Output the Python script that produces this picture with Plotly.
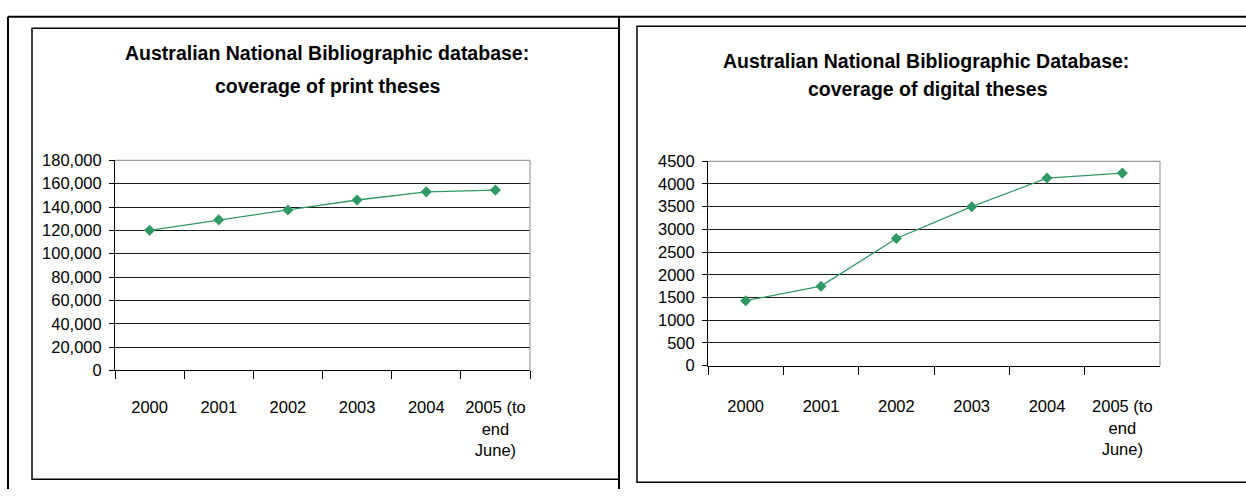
import plotly.graph_objects as go

W, H = 1246, 498

categories = ["2000", "2001", "2002", "2003", "2004", "2005 (to<br>end<br>June)"]
print_theses = [120000, 129000, 137500, 146000, 153000, 154500]
digital_theses = [1430, 1750, 2800, 3500, 4130, 4240]

title_left = ["Australian National Bibliographic database:", "coverage of print theses"]
title_right = ["Australian National Bibliographic Database:", "coverage of digital theses"]

FONT = "Liberation Sans, Arial, sans-serif"
GREEN = "#2f9964"

def px(x):
    return x / W

def py(y):
    return 1 - y / H

fig = go.Figure()

for xa, ya, vals in (("x", "y", print_theses), ("x2", "y2", digital_theses)):
    fig.add_trace(go.Scatter(
        x=categories, y=vals, mode="lines+markers", xaxis=xa, yaxis=ya,
        line=dict(color=GREEN, width=1.3),
        marker=dict(symbol="diamond", size=8.5, color=GREEN),
        showlegend=False, cliponaxis=False))

tickfont = dict(family=FONT, size=16.5, color="black")

xcommon = dict(type="category", range=[-0.5, 5.5], tickson="boundaries",
               ticks="outside", ticklen=8, tickcolor="black", tickwidth=1,
               showline=True, linecolor="black", linewidth=1, tickangle=0,
               showgrid=False, tickfont=tickfont, fixedrange=True)
ycommon = dict(ticks="outside", ticklen=5, tickcolor="black",
               showline=True, linecolor="black", linewidth=1,
               showgrid=True, gridcolor="#1a1a1a", gridwidth=1,
               zeroline=False, tickfont=tickfont, fixedrange=True,
               ticklabelstandoff=4)

fig.update_layout(
    width=W, height=H,
    margin=dict(l=0, r=0, t=0, b=0),
    paper_bgcolor="white", plot_bgcolor="white",
    font=dict(family=FONT, color="black"),
    xaxis=dict(domain=[px(115), px(530)], anchor="y", ticklabelstandoff=22, **xcommon),
    yaxis=dict(domain=[py(375), py(157)], anchor="x", range=[0, 180000],
               dtick=20000, tickformat=",d", **ycommon),
    xaxis2=dict(domain=[px(708), px(1160)], anchor="y2", ticklabelstandoff=26, **xcommon),
    yaxis2=dict(domain=[py(370), py(158)], anchor="x2", range=[0, 4500],
                dtick=500, tickformat="d", **ycommon),
)

shapes = []
# outer frame lines
shapes.append(dict(type="line", xref="paper", yref="paper", x0=px(8), x1=1, y0=py(8), y1=py(8),
                   line=dict(color="black", width=2)))
shapes.append(dict(type="line", xref="paper", yref="paper", x0=px(8), x1=px(8), y0=py(8), y1=0,
                   line=dict(color="black", width=2)))
shapes.append(dict(type="line", xref="paper", yref="paper", x0=px(619), x1=px(619), y0=py(8), y1=0,
                   line=dict(color="black", width=2)))
# left chart box
shapes.append(dict(type="rect", xref="paper", yref="paper", x0=px(32), x1=px(619), y0=py(488), y1=py(20),
                   line=dict(color="black", width=1.5)))
# right chart box
shapes.append(dict(type="rect", xref="paper", yref="paper", x0=px(637), x1=px(1250), y0=py(491), y1=py(18),
                   line=dict(color="black", width=1.5)))
# plot area top/right borders (gray)
for xr, yr in (("x", "y"), ("x2", "y2")):
    shapes.append(dict(type="line", xref=f"{xr} domain", yref=f"{yr} domain", x0=0, x1=1, y0=1, y1=1,
                       line=dict(color="#9a9a9a", width=1.2)))
    shapes.append(dict(type="line", xref=f"{xr} domain", yref=f"{yr} domain", x0=1, x1=1, y0=0, y1=1,
                       line=dict(color="#9a9a9a", width=1.2)))
fig.update_layout(shapes=shapes)

titlefont = dict(family=FONT, size=19.5, color="black", weight="bold")
ann = []
for text, cx, cy in ((title_left[0], 327, 46), (title_left[1], 328, 80),
                     (title_right[0], 926, 54), (title_right[1], 928, 83)):
    ann.append(dict(text=f"<b>{text}</b>", xref="paper", yref="paper", x=px(cx), y=py(cy),
                    xanchor="center", yanchor="middle", showarrow=False, font=titlefont))
fig.update_layout(annotations=ann)

fig.write_html("out.html")
